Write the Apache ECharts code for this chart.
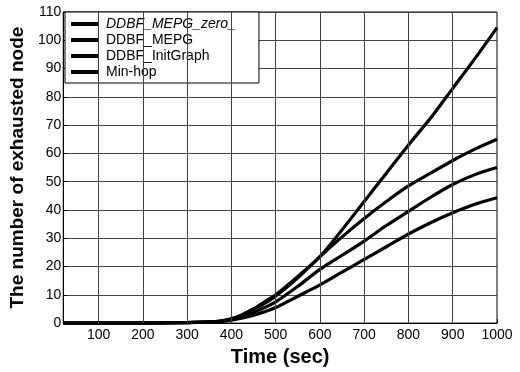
<!DOCTYPE html>
<html>
<head>
<meta charset="utf-8">
<script src="https://cdn.jsdelivr.net/npm/echarts@6/dist/echarts.min.js"></script>
<style>html,body{margin:0;padding:0;background:#fff}#c{width:520px;height:372px}</style>
</head>
<body>
<div id="c"></div>
<script>
var times = [20, 100, 200, 300, 350, 375, 400, 425, 450, 475, 500, 550, 600, 650, 700, 750, 800, 850, 900, 950, 1000];
var zeroMEPG = [0, 0, 0, 0.2, 0.4, 0.7, 1.5, 3, 5, 7.5, 10, 16.5, 23.5, 33, 43, 53, 63, 72.5, 83, 93.5, 104.5];
var mepg = [0, 0, 0, 0.2, 0.4, 0.7, 1.5, 3, 5, 7, 9.5, 16, 23.5, 30.5, 37, 43, 48.5, 53, 57.5, 61.5, 65];
var initGraph = [0, 0, 0, 0.2, 0.4, 0.6, 1.2, 2.3, 3.8, 5.5, 7.5, 13, 19, 24, 29, 34.5, 39.5, 44.5, 49, 52.5, 55];
var minHop = [0, 0, 0, 0.2, 0.3, 0.5, 1, 1.8, 2.8, 4, 5.5, 9.5, 13.5, 18, 22.5, 27, 31.5, 35.5, 39, 42, 44.3];
var seriesNames = ['DDBF_MEPG_zero_', 'DDBF_MEPG', 'DDBF_InitGraph', 'Min-hop'];
var xTicks = [100, 200, 300, 400, 500, 600, 700, 800, 900, 1000];

function pairs(ys) { return times.map(function (t, i) { return [t, ys[i]]; }); }
var allData = [zeroMEPG, mepg, initGraph, minHop];

var chart = echarts.init(document.getElementById('c'), null, { renderer: 'canvas' });
var font = 'Liberation Sans, Arial, sans-serif';
var series = seriesNames.map(function (n, i) {
  return {
    name: n, type: 'line', data: pairs(allData[i]), smooth: 0.3, showSymbol: false,
    lineStyle: { color: '#000', width: 3.2 }, itemStyle: { color: '#000' }, z: 3
  };
});
series.push({
  type: 'line', data: [], silent: true,
  markLine: {
    symbol: 'none', silent: true, label: { show: false },
    lineStyle: { color: '#444', width: 1, type: 'solid' },
    data: xTicks.slice(0, 9).map(function (v) { return { xAxis: v }; })
  }
});
chart.setOption({
  animation: false,
  backgroundColor: '#fff',
  grid: { left: 62, right: 23, top: 12, bottom: 40, show: true, borderColor: '#000', borderWidth: 1 },
  legend: {
    orient: 'vertical', left: 65, top: 12,
    backgroundColor: '#fff', borderColor: '#000', borderWidth: 1,
    padding: [5, 23, 4, 6], itemGap: 2, itemWidth: 28, itemHeight: 4, icon: 'rect',
    textStyle: { fontFamily: font, fontSize: 14, color: '#000', padding: [0, 0, 0, 2] },
    data: [
      { name: seriesNames[0], textStyle: { fontStyle: 'italic' } },
      { name: seriesNames[1] }, { name: seriesNames[2] }, { name: seriesNames[3] }
    ]
  },
  xAxis: {
    type: 'value', min: 20, max: 1000,
    name: 'Time (sec)', nameLocation: 'middle', nameGap: 21,
    nameTextStyle: { fontFamily: font, fontSize: 20, fontWeight: 'bold', color: '#000' },
    axisLine: { show: true, lineStyle: { color: '#000' } },
    axisTick: { show: true, inside: true, length: 4, customValues: xTicks, lineStyle: { color: '#000' } },
    axisLabel: { customValues: xTicks, fontFamily: font, fontSize: 14, color: '#000', margin: 5,
      formatter: function (v) { return String(v); } },
    splitLine: { show: false }
  },
  yAxis: {
    type: 'value', min: 0, max: 110, interval: 10,
    name: 'The number of exhausted node', nameLocation: 'middle', nameGap: 34,
    nameTextStyle: { fontFamily: font, fontSize: 19, fontWeight: 'bold', color: '#000' },
    axisLine: { show: true, lineStyle: { color: '#000' } },
    axisTick: { show: true, inside: true, length: 4, lineStyle: { color: '#000' } },
    axisLabel: { fontFamily: font, fontSize: 14, color: '#000', margin: 2 },
    splitLine: { show: true, lineStyle: { color: '#444', width: 1 } }
  },
  series: series
});
</script>
</body>
</html>
